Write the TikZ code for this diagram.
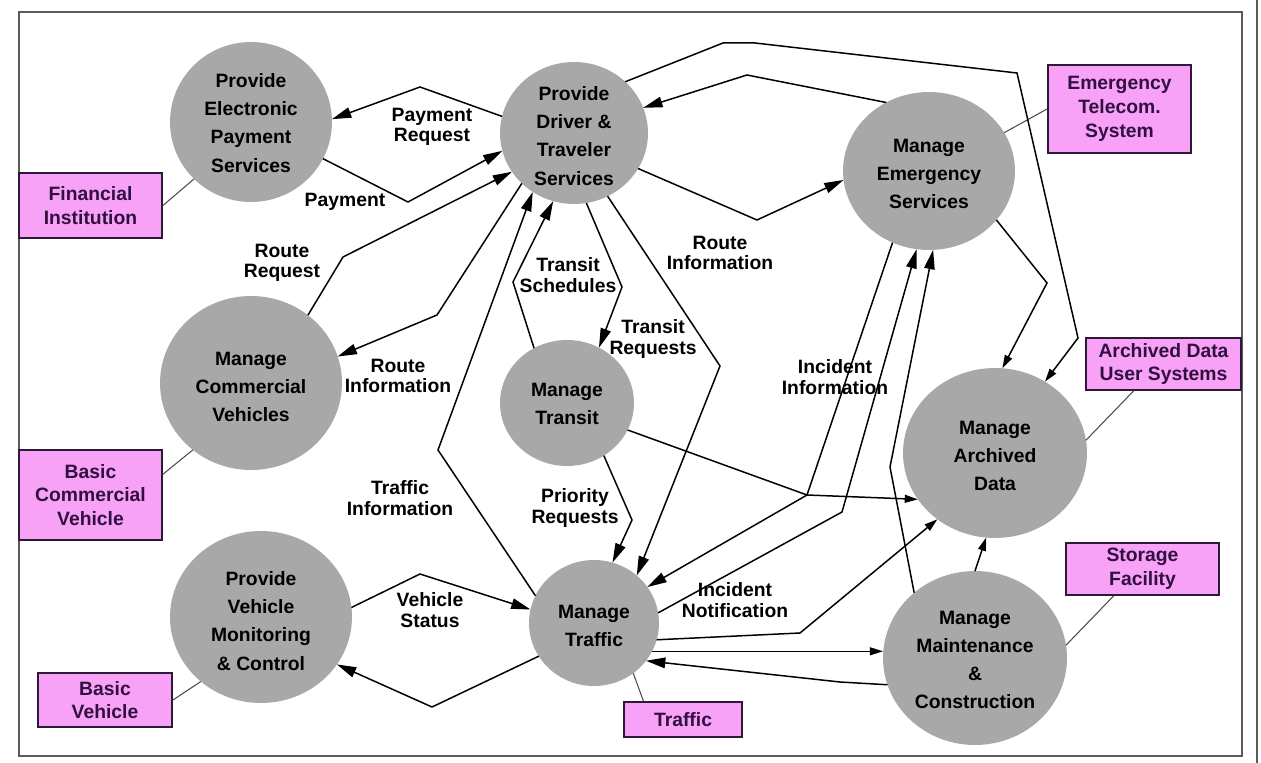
\documentclass[tikz,border=0pt]{standalone}
\usepackage{fontspec}
\setmainfont{Liberation Sans}
\usetikzlibrary{arrows.meta,shapes.geometric}
\definecolor{procfill}{RGB}{168,168,168}
\definecolor{termfill}{RGB}{247,162,247}
\definecolor{termedge}{RGB}{45,25,55}
\definecolor{termtext}{RGB}{50,15,65}
\definecolor{framecol}{RGB}{90,90,90}
\begin{document}
\begin{tikzpicture}[x=0.02cm,y=-0.02cm,
  proc/.style={ellipse, fill=procfill, inner sep=0pt, outer sep=0pt},
  ptext/.style={align=center, font=\fontsize{11}{16}\selectfont\bfseries, inner sep=0pt},
  term/.style={rectangle, draw=termedge, fill=termfill, line width=1.1pt, inner sep=0pt,
    align=center, text=termtext, font=\fontsize{11}{13.5}\selectfont\bfseries},
  flow/.style={line width=0.85pt, -{Triangle[length=11pt,width=6pt]}},
  flowsm/.style={line width=0.85pt, -{Triangle[length=7.5pt,width=4.5pt]}},
  link/.style={line width=0.6pt, black!70},
  lbl/.style={align=center, font=\fontsize{11}{11.5}\selectfont\bfseries, inner sep=0pt}]

\useasboundingbox (0,0) rectangle (1261,763);
\fill[white] (0,0) rectangle (1261,763);

% page frame
\draw[line width=1.6pt, framecol] (19,12) rectangle (1242,756);
\draw[line width=1.2pt, framecol] (1257,0) -- (1257,763);

% processes
\node[proc, minimum width=3.24cm, minimum height=3.20cm] (peps) at (251,122) {};
\node[proc, minimum width=2.96cm, minimum height=2.84cm] (pdts) at (574,133) {};
\node[proc, minimum width=3.44cm, minimum height=3.16cm] (mes)  at (929,171) {};
\node[proc, minimum width=3.64cm, minimum height=3.48cm] (mcv)  at (251,383) {};
\node[proc, minimum width=2.68cm, minimum height=2.52cm] (mt)   at (567,403) {};
\node[proc, minimum width=3.68cm, minimum height=3.40cm] (mad)  at (995,453) {};
\node[proc, minimum width=3.64cm, minimum height=3.44cm] (pvmc) at (261,617) {};
\node[proc, minimum width=2.60cm, minimum height=2.52cm] (mtr)  at (594,623) {};
\node[proc, minimum width=3.68cm, minimum height=3.48cm] (mmc)  at (975,658) {};

\node[ptext] (peps-t) at (251,123) {Provide\\Electronic\\Payment\\Services};
\node[ptext] (pdts-t) at (574,136) {Provide\\Driver \&\\Traveler\\Services};
\node[ptext] (mes-t)  at (929,174) {Manage\\Emergency\\Services};
\node[ptext] (mcv-t)  at (251,387) {Manage\\Commercial\\Vehicles};
\node[ptext] (mt-t)   at (567,404) {Manage\\Transit};
\node[ptext] (mad-t)  at (995,456) {Manage\\Archived\\Data};
\node[ptext] (pvmc-t) at (261,621) {Provide\\Vehicle\\Monitoring\\\& Control};
\node[ptext] (mtr-t)  at (594,626) {Manage\\Traffic};
\node[ptext] (mmc-t)  at (975,660) {Manage\\Maintenance\\\&\\Construction};

% terminators
\node[term, minimum width=2.86cm, minimum height=1.30cm] (fin)  at (90.5,205.5) {Financial\\Institution};
\node[term, minimum width=2.86cm, minimum height=1.76cm] (etel) at (1119.5,109) {Emergency\\Telecom.\\System};
\node[term, minimum width=3.10cm, minimum height=1.04cm] (adus) at (1163.5,364) {Archived Data\\User Systems};
\node[term, minimum width=2.86cm, minimum height=1.80cm] (bcv)  at (90.5,495) {Basic\\Commercial\\Vehicle};
\node[term, minimum width=2.68cm, minimum height=1.08cm] (bv)   at (105,700) {Basic\\Vehicle};
\node[term, minimum width=2.36cm, minimum height=0.70cm] (trf)  at (683,719.5) {Traffic};
\node[term, minimum width=3.06cm, minimum height=1.04cm] (sto)  at (1142.5,569) {Storage\\Facility};

% terminator links
\draw[link] (fin.east) -- (peps.225);
\draw[link] (etel.west) -- (mes.27);
\draw[link] (adus.222) -- (mad.8);
\draw[link] (bcv.16) -- (mcv.229);
\draw[link] (bv.east) -- (pvmc.227);
\draw[link] (trf.155) -- (mtr.308);
\draw[link] (sto.223) -- (mmc.8);

% data flows
\draw[flow] (pdts.167) -- (420,87) -- (peps.2);
\draw[flow] (peps.-27) -- (408,202) -- (pdts.194);
\draw[flow] (mcv.50) -- (343,257) -- (pdts.212.5);
\draw[flow] (pdts.224) -- (437,315) -- (mcv.17.5);
\draw[flow] (mtr.155) -- (438,450) -- (pdts.235);
\draw[flow] (mt.121) -- (513,282) -- (pdts.253);
\draw[flow] (pdts.280) -- (622,287) -- (mt.60);
\draw[flow] (pdts.298) -- (720,366) -- (mtr.48);
\draw[flow] (mt.305) -- (632,520) -- (mtr.73);
\draw[flow] (pdts.331) -- (757,220) -- (mes.186);
\draw[flow] (mes.122.5) -- (747,75) -- (pdts.20);
\draw[flowsm] (pdts.45) -- (723,43) -- (755,43) -- (1017,73) -- (1078,338) -- (mad.55);
\draw[flowsm] (mes.324) -- (1047,283) -- (mad.85);
\draw[flow] (mes.243) -- (807,495) -- (mtr.34);
\draw[flow] (mtr.9) -- (842,512) -- (mes.261);
\draw[flow] (mmc.133) -- (890,467) -- (mes.273);
\draw[flowsm] (mt.336) -- (807,495) -- (mad.211.5);
\draw[flowsm] (mtr.345) -- (800,633) -- (mad.229);
\draw[flowsm] (mtr.334) -- (mtr.334 -| mmc.west);
\draw[flow] (mmc.197) -- (840,682) -- (mtr.324);
\draw[flowsm] (mmc.90) -- (mad.264);
\draw[flow] (pvmc.6) -- (420,574) -- (mtr.168.5);
\draw[flow] (mtr.211) -- (432,707) -- (pvmc.328.6);

% flow labels
\node[lbl] (l-payreq)  at (432,127) {Payment\\Request};
\node[lbl] (l-pay)     at (345,202) {Payment};
\node[lbl] (l-routereq) at (282,263) {Route\\Request};
\node[lbl] (l-routeinf1) at (398,376) {Route\\Information};
\node[lbl] (l-trafinf) at (400,498) {Traffic\\Information};
\node[lbl] (l-transch) at (568,275) {Transit\\Schedules};
\node[lbl] (l-tranreq) at (653,339) {Transit\\Requests};
\node[lbl] (l-routeinf2) at (720,253) {Route\\Information};
\node[lbl] (l-incinf)  at (835,377) {Incident\\Information};
\node[lbl] (l-prio)    at (575,508) {Priority\\Requests};
\node[lbl] (l-vstat)   at (430,610) {Vehicle\\Status};
\node[lbl] (l-incnot)  at (735,600) {Incident\\Notification};
\end{tikzpicture}
\end{document}
